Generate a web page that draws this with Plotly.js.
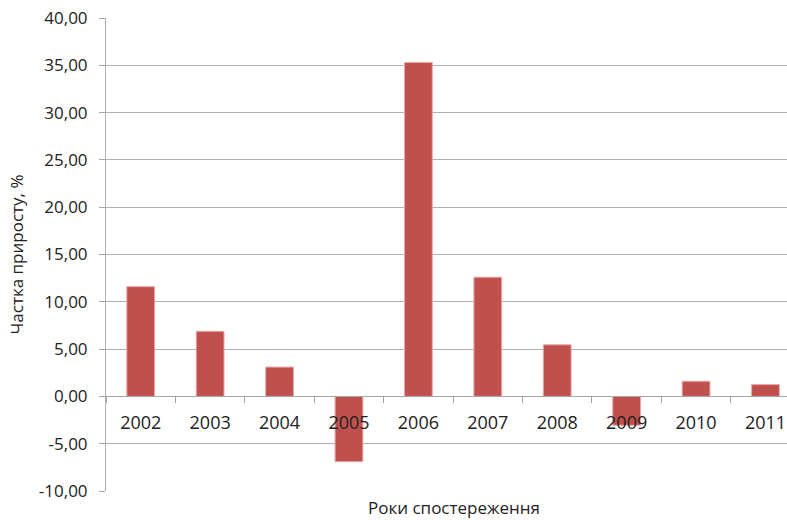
<!DOCTYPE html>
<html>
<head>
<meta charset="utf-8">
<script src="https://cdn.plot.ly/plotly-3.0.1.min.js"></script>
<style>html,body{margin:0;padding:0;background:#fff}#chart{width:787px;height:520px}</style>
</head>
<body>
<div id="chart"></div>
<script>
const years = ['2002','2003','2004','2005','2006','2007','2008','2009','2010','2011'];
const growthShare = [11.6, 6.88, 3.1, -6.9, 35.3, 12.6, 5.45, -3.05, 1.6, 1.25];
const yTickValues = [-10,-5,0,5,10,15,20,25,30,35,40];
const yTickLabels = yTickValues.map(v => v.toFixed(2).replace('.', ','));

const trace = {
  type: 'bar',
  x: years,
  y: growthShare,
  marker: {color: '#C0504D', line: {color: '#e8a8a6', width: 1}},
  hoverinfo: 'x+y'
};

const layout = {
  width: 787, height: 520,
  margin: {l: 106, r: 0, t: 18, b: 29},
  paper_bgcolor: '#fff', plot_bgcolor: '#fff',
  bargap: 0.6,
  showlegend: false,
  font: {family: 'Open Sans, Noto Sans, sans-serif', color: '#222'},
  xaxis: {
    type: 'category',
    range: [-0.5, 9.31],
    anchor: 'free',
    position: 0.2,
    showline: true, linecolor: '#a6a6a6', linewidth: 1,
    ticks: 'outside', tickson: 'boundaries', ticklen: 6, tickcolor: '#a6a6a6',
    showgrid: false,
    tickfont: {size: 18, color: '#222'},
    ticklabelstandoff: 10
  },
  yaxis: {
    range: [-10, 40],
    tickvals: yTickValues,
    ticktext: yTickLabels,
    showline: true, linecolor: '#b0b0b0', linewidth: 1,
    ticks: 'outside', ticklen: 6, tickcolor: '#a6a6a6',
    showgrid: true, gridcolor: '#b0b0b0', gridwidth: 1,
    zeroline: false,
    tickfont: {size: 17, color: '#222'},
    ticklabelstandoff: 8,
    title: {text: 'Частка приросту, %', font: {size: 17, color: '#222'}, standoff: 10}
  },
  annotations: [{
    text: 'Роки спостереження', xref: 'paper', yref: 'paper',
    x: 0.511, y: 0, yshift: -16, xanchor: 'center', yanchor: 'middle',
    showarrow: false, font: {size: 17, color: '#222'}
  }]
};

Plotly.newPlot('chart', [trace], layout, {displayModeBar: false, staticPlot: true});
</script>
</body>
</html>
